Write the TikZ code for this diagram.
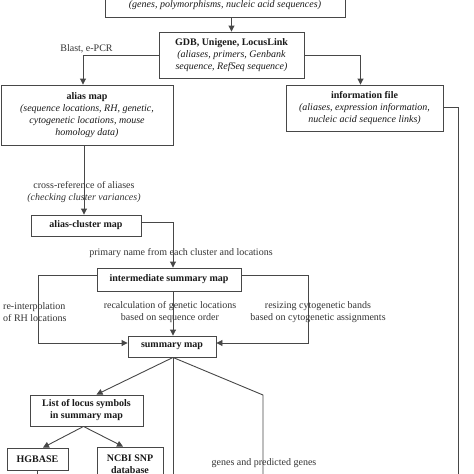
\documentclass[tikz,border=0pt]{standalone}
\usepackage{fontspec}
\setmainfont{Liberation Serif}
\usetikzlibrary{arrows.meta,calc}

\begin{document}
\begin{tikzpicture}[x=1pt,y=-1pt,>={Triangle[length=6pt,width=6pt]},
  every node/.style={font=\fontsize{10}{12}\selectfont},
  box/.style={draw=black!72,line width=0.9pt,align=center,inner sep=1pt,text=black!90},
  lbl/.style={align=center,text=black!80,inner sep=0pt},
  link/.style={draw=black!72,line width=0.9pt}]
  \useasboundingbox (0,0) rectangle (474,474);
  \clip (0,0) rectangle (474,474);
  % source databases and first maps
  \node[box,minimum width=240,minimum height=38] (src) at (225,-2)
    {\strut\\\textit{(genes, polymorphisms, nucleic acid sequences)}};
  \node[box,minimum width=145,minimum height=46] (gdb) at (231.5,55)
    {\textbf{GDB, Unigene, LocusLink}\\\textit{(aliases, primers, Genbank}\\\textit{sequence, RefSeq sequence)}};
  \node[box,minimum width=172,minimum height=60] (alias) at (87,115)
    {\textbf{alias map}\\\textit{(sequence locations, RH, genetic,}\\\textit{cytogenetic locations, mouse}\\\textit{homology data)}};
  \node[box,minimum width=157,minimum height=46] (info) at (364.5,108)
    {\textbf{information file}\\\textit{(aliases, expression information,}\\\textit{nucleic acid sequence links)}};
  \node[box,minimum width=110,minimum height=21] (cluster) at (86,225.5) {\textbf{alias-cluster map}};
  \node[box,minimum width=144,minimum height=23] (inter) at (169,279.5) {\textbf{intermediate summary map}};
  \node[box,minimum width=88,minimum height=21] (summary) at (172,346.5) {\textbf{summary map}};
  \node[box,minimum width=113,minimum height=31] (locus) at (86.5,410.5)
    {\textbf{List of locus symbols}\\\textbf{in summary map}};
  \node[box,minimum width=61,minimum height=22] (hgbase) at (37.5,459) {\textbf{HGBASE}};
  \node[box,minimum width=66,minimum height=34] (ncbi) at (130,464)
    {\textbf{NCBI SNP}\\\textbf{database}};
  % turning points
  \coordinate (spine) at (173,0);
  \coordinate (lft) at (38,0);
  \coordinate (rgt) at (308,0);
  \coordinate (genes) at (263,395);
  \coordinate (edge) at (458,0);
  \coordinate (floor) at (0,490);
  \coordinate (sumL) at ([yshift=3.5pt]summary.west);
  \coordinate (sumR) at ([yshift=3.5pt]summary.east);
  % connectors
  \draw[link,->] (gdb.north |- src.south) -- (gdb.north);
  \draw[link,->] (gdb.west) -| ([xshift=-4pt]alias.north);
  \draw[link,->] (gdb.east) -| ([xshift=-4pt]info.north);
  \draw[link,->] ([xshift=-3pt]alias.south) -- ([xshift=-3pt]alias.south |- cluster.north);
  \draw[link,->] ([yshift=3.5pt]cluster.east) -| (spine |- inter.north);
  \draw[link,->] ([yshift=4pt]inter.west) -| (lft |- sumL) -- (sumL);
  \draw[link,->] ([yshift=4pt]inter.east) -| (rgt |- sumR) -- (sumR);
  \draw[link,->] (spine |- inter.south) -- (spine |- summary.north);
  \draw[link,->] (spine |- summary.south) -- ([xshift=10pt]locus.north);
  \draw[link] (spine |- summary.south) -- (spine |- floor);
  \draw[link] (spine |- summary.south) -- (genes) -- (genes |- floor);
  \draw[link,->] ([xshift=-3pt]locus.south) -- ([xshift=5.5pt]hgbase.north);
  \draw[link,->] ([xshift=-3pt]locus.south) -- ([xshift=-7pt]ncbi.north);
  \draw[link] (hgbase.south) -- (hgbase.south |- floor);
  \draw[link] ([yshift=1pt]info.east) -| (edge |- floor);
  % labels
  \node[lbl] (blast) at (86.5,49) {Blast, e-PCR};
  \node[lbl] (xref) at (84,192.5) {cross-reference of aliases\\\textit{(checking cluster variances)}};
  \node[lbl] (primary) at (181,253) {primary name from each cluster and locations};
  \node[lbl,align=left,anchor=west] (reint) at (3,312.5) {re-interpolation\\of RH locations};
  \node[lbl] (recalc) at (170,312.5) {recalculation of genetic locations\\based on sequence order};
  \node[lbl] (resize) at (318,312.5) {resizing cytogenetic bands\\based on cytogenetic assignments};
  \node[lbl] (predicted) at (264,463) {genes and predicted genes};
\end{tikzpicture}
\end{document}
